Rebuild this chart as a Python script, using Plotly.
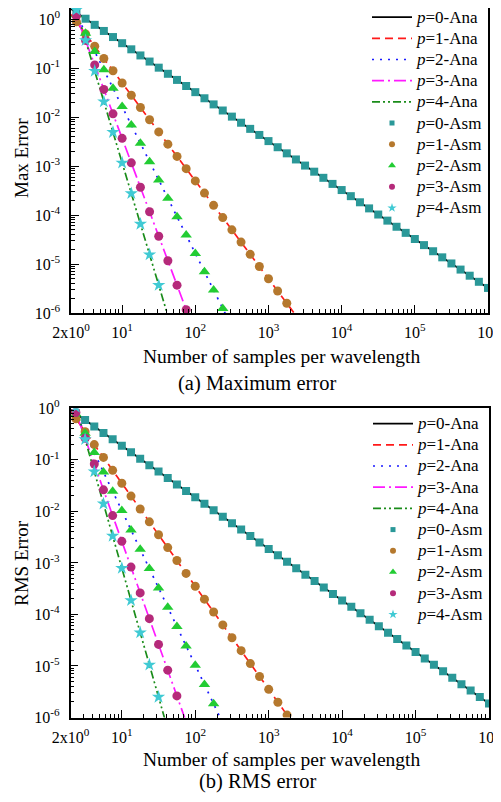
import plotly.graph_objects as go

# ---------------- data ----------------
# sample counts per wavelength used for the asymptotic markers (N = 10^(k/8), k = 3..48)
N_asm = [2.371, 3.162, 4.217, 5.623, 7.499,
         10, 13.34, 17.78, 23.71, 31.62, 42.17, 56.23, 74.99,
         100, 133.4, 177.8, 237.1, 316.2, 421.7, 562.3, 749.9,
         1000, 1334, 1778, 2371, 3162, 4217, 5623, 7499,
         1e4, 13340, 17780, 23710, 31620, 42170, 56230, 74990,
         1e5, 133400, 177800, 237100, 316200, 421700, 562300, 749900,
         1e6]

# (a) maximum error, asymptotic markers
max_asm_p0 = [1.371, 1.028, 0.771, 0.578, 0.434,
              0.325, 0.2437, 0.1827, 0.1371, 0.1028, 0.0771, 0.0578, 0.0434,
              0.0325, 0.02437, 0.01827, 0.01371, 0.01028, 7.71e-3, 5.78e-3, 4.34e-3,
              3.25e-3, 2.437e-3, 1.827e-3, 1.371e-3, 1.028e-3, 7.71e-4, 5.78e-4, 4.34e-4,
              3.25e-4, 2.437e-4, 1.827e-4, 1.371e-4, 1.028e-4, 7.71e-5, 5.78e-5, 4.34e-5,
              3.25e-5, 2.437e-5, 1.827e-5, 1.371e-5, 1.028e-5, 7.71e-6, 5.78e-6, 4.34e-6,
              3.25e-6]
max_asm_p1 = [0.889, 0.5, 0.2812, 0.1581, 0.0889, 0.05, 0.02812, 0.01581,
              8.89e-3, 5.0e-3, 2.812e-3, 1.581e-3, 8.89e-4, 5.0e-4, 2.812e-4, 1.581e-4,
              8.89e-5, 5.0e-5, 2.812e-5, 1.581e-5, 8.89e-6, 5.0e-6, 2.812e-6, 1.581e-6]
max_asm_p2 = [1.237, 0.5218, 0.2200, 0.09278, 0.03912, 0.0165, 6.958e-3, 2.934e-3,
              1.237e-3, 5.218e-4, 2.200e-4, 9.278e-5, 3.912e-5, 1.65e-5, 6.958e-6,
              2.934e-6, 1.237e-6]
max_asm_p3 = [1.170, 0.37, 0.1170, 0.037, 0.0117, 3.7e-3, 1.170e-3, 3.7e-4,
              1.170e-4, 3.7e-5, 1.170e-5, 3.7e-6, 1.170e-6]
max_asm_p4 = [1.560, 0.370, 0.08774, 0.02080, 4.934e-3, 1.17e-3, 2.774e-4,
              6.579e-5, 1.560e-5, 3.700e-6]

# (a) maximum error, analytic lines (start / end points)
ana_N_p0 = [2, 1e6]
ana_N_p1 = [2, 3000]
ana_N_p2 = [2, 400]
ana_N_p3 = [2, 100]
ana_N_p4 = [2, 50]
max_ana_p0 = [1.625, 3.25e-6]
max_ana_p1 = [1.25, 5.556e-7]
max_ana_p2 = [2.0625, 2.578e-7]
max_ana_p3 = [2.3125, 3.7e-7]
max_ana_p4 = [3.656, 3.744e-7]

# (b) RMS error, asymptotic markers
rms_asm_p0 = [0.7886, 0.5913, 0.4434, 0.3325, 0.2495,
              0.187, 0.1402, 0.10515, 0.07886, 0.05913, 0.04434, 0.03325, 0.02495,
              0.0187, 0.01402, 0.010515, 7.886e-3, 5.913e-3, 4.434e-3, 3.325e-3, 2.495e-3,
              1.87e-3, 1.402e-3, 1.0515e-3, 7.886e-4, 5.913e-4, 4.434e-4, 3.325e-4, 2.495e-4,
              1.87e-4, 1.402e-4, 1.0515e-4, 7.886e-5, 5.913e-5, 4.434e-5, 3.325e-5, 2.495e-5,
              1.87e-5, 1.402e-5, 1.0515e-5, 7.886e-6, 5.913e-6, 4.434e-6, 3.325e-6, 2.495e-6,
              1.87e-6]
rms_asm_p1 = [0.6259, 0.352, 0.1979, 0.1113, 0.06259, 0.0352, 0.01979, 0.01113,
              6.259e-3, 3.52e-3, 1.979e-3, 1.113e-3, 6.259e-4, 3.52e-4, 1.979e-4, 1.113e-4,
              6.259e-5, 3.52e-5, 1.979e-5, 1.113e-5, 6.259e-6, 3.52e-6, 1.979e-6, 1.113e-6]
rms_asm_p2 = [0.7761, 0.3273, 0.1380, 0.05820, 0.02454, 0.01035, 4.365e-3, 1.840e-3,
              7.761e-4, 3.273e-4, 1.380e-4, 5.820e-5, 2.454e-5, 1.035e-5, 4.365e-6, 1.840e-6]
rms_asm_p3 = [0.8285, 0.262, 0.08285, 0.0262, 8.285e-3, 2.62e-3, 8.285e-4, 2.62e-4,
              8.285e-5, 2.62e-5, 8.285e-6, 2.62e-6]
rms_asm_p4 = [1.053, 0.2498, 0.05924, 0.01405, 3.331e-3, 7.9e-4, 1.873e-4,
              4.442e-5, 1.053e-5, 2.498e-6]

# (b) RMS error, analytic lines
rms_ana_p0 = [0.935, 1.87e-6]
rms_ana_p1 = [0.88, 3.911e-7]
rms_ana_p2 = [1.294, 1.617e-7]
rms_ana_p3 = [1.6375, 2.62e-7]
rms_ana_p4 = [2.469, 2.528e-7]

x_tickvals = [2, 10, 100, 1000, 1e4, 1e5, 1e6]
x_ticktext = ["2x10<sup>0</sup>", "10<sup>1</sup>", "10<sup>2</sup>", "10<sup>3</sup>",
              "10<sup>4</sup>", "10<sup>5</sup>", "10<sup>6</sup>"]
y_tickvals = [1, 1e-1, 1e-2, 1e-3, 1e-4, 1e-5, 1e-6]
y_ticktext = ["10<sup>0</sup>", "10<sup>-1</sup>", "10<sup>-2</sup>", "10<sup>-3</sup>",
              "10<sup>-4</sup>", "10<sup>-5</sup>", "10<sup>-6</sup>"]

# ---------------- styles ----------------
FONT = "Liberation Serif, Times New Roman, serif"
line_colors = ["#000000", "#ff1a1a", "#1a1aff", "#ff1aff", "#1a8c1a"]
line_dashes = ["solid", "8px,5px", "2px,6px", "12px,4px,2px,4px", "8px,3px,2px,3px,2px,3px"]
mk_colors = ["#2a9898", "#b5782d", "#22cc33", "#b52a7a", "#40cad4"]
mk_symbols = ["square", "circle", "triangle-up", "circle", "star"]
mk_sizes = [8, 9, 10, 9, 10]
leg_sizes = [5, 6, 7, 6, 7]


def leg_label(p, kind):
    return '<span style="font-size:17px"><i>p</i>=%d-%s</span>' % (p, kind)


ana_N = [ana_N_p0, ana_N_p1, ana_N_p2, ana_N_p3, ana_N_p4]
panels = [
    dict(ana=[max_ana_p0, max_ana_p1, max_ana_p2, max_ana_p3, max_ana_p4],
         asm=[max_asm_p0, max_asm_p1, max_asm_p2, max_asm_p3, max_asm_p4],
         xa="x", ya="y", legend="legend"),
    dict(ana=[rms_ana_p0, rms_ana_p1, rms_ana_p2, rms_ana_p3, rms_ana_p4],
         asm=[rms_asm_p0, rms_asm_p1, rms_asm_p2, rms_asm_p3, rms_asm_p4],
         xa="x2", ya="y2", legend="legend2"),
]

fig = go.Figure()
for pan in panels:
    for p in range(5):
        fig.add_trace(go.Scatter(
            x=ana_N[p], y=pan["ana"][p], mode="lines",
            name=leg_label(p, "Ana"), legend=pan["legend"],
            xaxis=pan["xa"], yaxis=pan["ya"],
            line=dict(color=line_colors[p], dash=line_dashes[p], width=1.7)))
    for p in range(5):
        vals = pan["asm"][p]
        fig.add_trace(go.Scatter(
            x=N_asm[:len(vals)], y=vals, mode="markers", showlegend=False,
            xaxis=pan["xa"], yaxis=pan["ya"],
            marker=dict(color=mk_colors[p], symbol=mk_symbols[p], size=mk_sizes[p],
                        line=dict(width=0))))
    for p in range(5):
        fig.add_trace(go.Scatter(
            x=[None], y=[None], mode="markers",
            name=leg_label(p, "Asm"), legend=pan["legend"],
            xaxis=pan["xa"], yaxis=pan["ya"],
            marker=dict(color=mk_colors[p], symbol=mk_symbols[p], size=leg_sizes[p],
                        line=dict(width=0))))

# the page body adds an 8 px margin, so the figure is 16 px smaller than the window
OFF = 8
W, H = 501 - 2 * OFF, 802 - 2 * OFF


def px_x(v):
    return (v - OFF) / W


def px_y(v):
    return 1 - (v - OFF) / H


axis_common = dict(
    type="log", showgrid=False, zeroline=False, showline=True, linecolor="black",
    linewidth=1.6, mirror=True, ticks="inside", ticklen=8, tickwidth=1.2,
    tickcolor="black", tickfont=dict(family=FONT, size=16, color="black"),
    minor=dict(ticks="inside", ticklen=4, tickwidth=1, tickcolor="black", dtick="D1"),
    automargin=False, ticklabeloverflow="allow",
)

leg_common = dict(bgcolor="rgba(0,0,0,0)", font=dict(family=FONT, size=14, color="black"),
                  itemwidth=40, traceorder="normal", tracegroupgap=0,
                  xref="paper", yref="paper", xanchor="right", yanchor="top")

fig.update_layout(
    width=W, height=H, margin=dict(l=0, r=0, t=0, b=0, autoexpand=False),
    paper_bgcolor="white", plot_bgcolor="white",
    font=dict(family=FONT, color="black"),
    xaxis=dict(axis_common, domain=[px_x(71), px_x(488)], anchor="y",
               range=[0.30103, 6], tickmode="array", tickvals=x_tickvals,
               ticktext=x_ticktext, ticklabelstandoff=4),
    # panel (a) starts at the top edge of the figure; range keeps 49 px per decade
    yaxis=dict(axis_common, domain=[px_y(313), 1.0], anchor="x",
               range=[-6, 0.231], tickmode="array", tickvals=y_tickvals,
               ticktext=y_ticktext, ticklabelstandoff=6),
    xaxis2=dict(axis_common, domain=[px_x(70.5), px_x(489)], anchor="y2",
                range=[0.30103, 6], tickmode="array", tickvals=x_tickvals,
                ticktext=x_ticktext, ticklabelstandoff=4),
    yaxis2=dict(axis_common, domain=[px_y(717.5), px_y(408.3)], anchor="x2",
                range=[-6, 0], tickmode="array", tickvals=y_tickvals,
                ticktext=y_ticktext, ticklabelstandoff=6),
    legend=dict(leg_common, x=px_x(488), y=px_y(1.5)),
    legend2=dict(leg_common, x=px_x(489), y=px_y(408)),
)

annotations = [
    dict(text="Max Error", x=px_x(21), y=px_y(158), textangle=-90, size=19),
    dict(text="RMS Error", x=px_x(21), y=px_y(563), textangle=-90, size=19),
    dict(text="Number of samples per wavelength", x=px_x(281), y=px_y(356), size=19.5),
    dict(text="Number of samples per wavelength", x=px_x(281), y=px_y(759), size=19.5),
    dict(text="(a) Maximum error", x=px_x(257), y=px_y(383), size=20.5),
    dict(text="(b) RMS error", x=px_x(258), y=px_y(781), size=20.5),
]
for a in annotations:
    size = a.pop("size")
    fig.add_annotation(xref="paper", yref="paper", showarrow=False,
                       xanchor="center", yanchor="middle",
                       font=dict(family=FONT, size=size, color="black"), **a)

fig.write_html("out.html")
